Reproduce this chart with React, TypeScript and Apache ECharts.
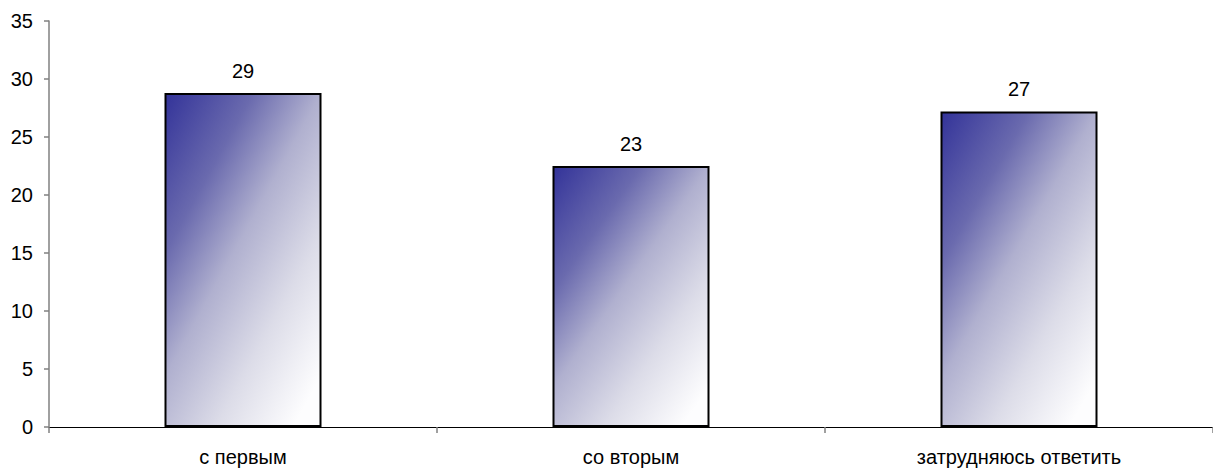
import React, { useEffect, useRef } from "react";
import * as echarts from "echarts";

const categories = ["с первым", "со вторым", "затрудняюсь ответить"];
const values = [28.8, 22.5, 27.2];
const yTicks = { min: 0, max: 35, interval: 5 };

export default function App() {
  const ref = useRef<HTMLDivElement>(null);
  useEffect(() => {
    const chart = echarts.init(ref.current!, null, { renderer: "svg" });
    const font = "'Liberation Sans', Arial, sans-serif";
    const gradient = () =>
      new echarts.graphic.LinearGradient(0, 0, 0.84, 0.99, [
        { offset: 0, color: "#333399" },
        { offset: 0.28, color: "#6a6aae" },
        { offset: 0.5, color: "#b0b0cf" },
        { offset: 0.75, color: "#dcdce8" },
        { offset: 1, color: "#fdfdfe" },
      ]);
    chart.setOption({
      animation: false,
      backgroundColor: "#ffffff",
      grid: { left: 49, top: 21, width: 1170, height: 406, containLabel: false },
      xAxis: {
        type: "category",
        data: categories,
        boundaryGap: true,
        axisLine: { show: true, lineStyle: { color: "#000000", width: 1 } },
        axisTick: { show: true, length: 6, lineStyle: { color: "#808080", width: 1.5 } },
        axisLabel: { color: "#000000", fontSize: 20, fontFamily: font, margin: 20 },
        splitLine: { show: false },
      },
      yAxis: {
        type: "value",
        min: yTicks.min,
        max: yTicks.max,
        interval: yTicks.interval,
        axisLine: { show: true, lineStyle: { color: "#808080", width: 1.5 } },
        axisTick: { show: true, length: 5, lineStyle: { color: "#808080", width: 1.5 } },
        axisLabel: { color: "#000000", fontSize: 20, fontFamily: font, margin: 16 },
        splitLine: { show: false },
      },
      series: [
        {
          type: "bar",
          data: values.map((v) => ({ value: v, itemStyle: { color: gradient() } })),
          barWidth: 157,
          itemStyle: {
            borderColor: "#000000",
            borderWidth: 2,
          },
          label: {
            show: true,
            position: "top",
            distance: 12,
            color: "#000000",
            fontSize: 20,
            fontFamily: font,
            formatter: (p: any) => String(Math.round(p.value)),
          },
        },
      ],
    });
    return () => chart.dispose();
  }, []);
  return (
    <div
      ref={ref}
      style={{ position: "fixed", left: 0, top: 0, width: 1213, height: 469 }}
    />
  );
}
